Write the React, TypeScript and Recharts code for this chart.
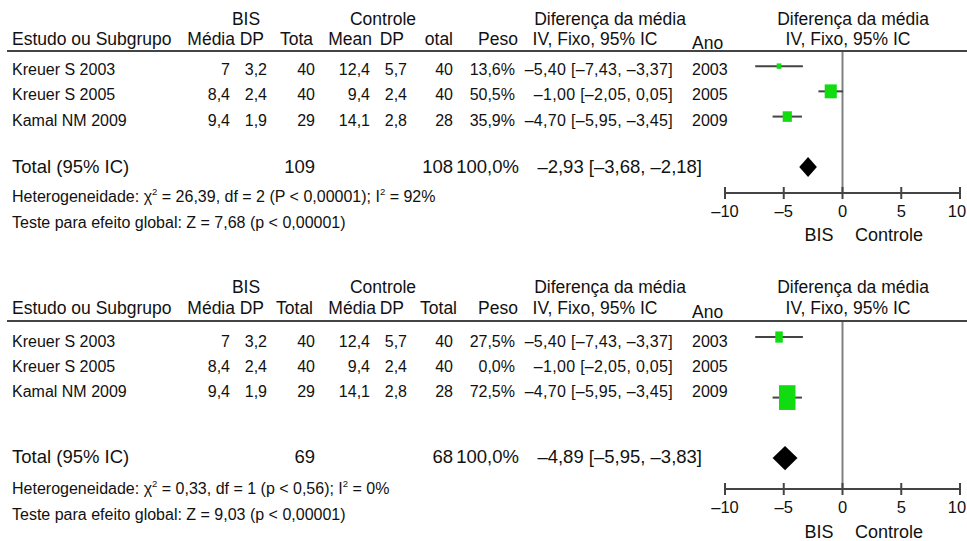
import React from "react";
import {
  ScatterChart,
  Scatter,
  XAxis,
  YAxis,
  ErrorBar,
  ReferenceLine,
  ReferenceArea,
} from "recharts";

const FONT = '"Liberation Sans", Arial, Helvetica, sans-serif';
const INK = "#111";

// ---------- data ----------
const studies = ["Kreuer S 2003", "Kreuer S 2005", "Kamal NM 2009"];
const bisMean = [7, 8.4, 9.4];
const bisSD = [3.2, 2.4, 1.9];
const bisN = [40, 40, 29];
const ctrlMean = [12.4, 9.4, 14.1];
const ctrlSD = [5.7, 2.4, 2.8];
const ctrlN = [40, 40, 28];
const years = [2003, 2005, 2009];
const meanDiff = [-5.4, -1.0, -4.7];
const ciLow = [-7.43, -2.05, -5.95];
const ciHigh = [-3.37, 0.05, -3.45];
const weightsTop = [13.6, 50.5, 35.9];
const weightsBottom = [27.5, 0.0, 72.5];

const totalN1 = [109, 69];
const totalN2 = [108, 68];
const totalWeight = [100.0, 100.0];
const totalMD = [-2.93, -4.89];
const totalLo = [-3.68, -5.95];
const totalHi = [-2.18, -3.83];

const hetChi2 = [26.39, 0.33];
const hetDf = [2, 1];
const hetP = ["P < 0,00001", "p < 0,56"];
const hetI2 = [92, 0];
const zValue = [7.68, 9.03];
const zP = ["p < 0,00001", "p < 0,00001"];

const xTicks = [-10, -5, 0, 5, 10];

const headerTop = ["Média", "DP", "Tota", "Mean", "DP", "otal"];
const headerBottom = ["Média", "DP", "Total", "Média", "DP", "Total"];

// ---------- helpers ----------
const fmt = (v: number, d: number) =>
  v.toFixed(d).replace(".", ",").replace("-", "\u2013");
const num = (v: number) => String(v).replace(".", ",");
const ciText = (m: number, l: number, h: number) =>
  `${fmt(m, 2)} [${fmt(l, 2)}, ${fmt(h, 2)}]`;

const layouts = [
  {
    chartTop: 0,
    groupY: 25,
    headY: 45,
    anoY: 48.5,
    lineY: 51,
    rowY: [74.5, 100, 125.5],
    totalY: 172.5,
    hetY: 202,
    testY: 228,
    bisY: 241,
    yDomain: [-0.6, 5.03],
    marginBottom: 37,
    weights: weightsTop,
    headers: headerTop,
    headerEnds: [235, 264, 313, 372, 404, 453],
    aspect: 1.15,
  },
  {
    chartTop: 270,
    groupY: 293,
    headY: 314,
    anoY: 317.5,
    lineY: 321,
    rowY: [347, 372, 397],
    totalY: 463,
    hetY: 494,
    testY: 520,
    bisY: 538,
    yDomain: [-0.53, 5.02],
    marginBottom: 11,
    weights: weightsBottom,
    headers: headerBottom,
    headerEnds: [235, 264, 313, 376, 404, 457],
    aspect: 1.5,
  },
];

const colEnds = [230, 267, 315, 370, 407, 453];

const Tick = (props: any) => {
  const { x, y, payload } = props;
  const v = payload.value as number;
  const tx = Math.min(x, 957);
  return (
    <g>
      <line x1={x} x2={x} y1={y - 6} y2={y + 6} stroke="#444" strokeWidth={2} />
      <text
        x={tx}
        y={y + 24}
        textAnchor="middle"
        fontSize={16.5}
        fontFamily={FONT}
        fill={INK}
      >
        {v < 0 ? "\u2013" + Math.abs(v) : String(v)}
      </text>
    </g>
  );
};

const makeSquare = (aspect: number) => (props: any) => {
  const { cx, cy, payload } = props;
  const w = 2 + 0.2 * payload.w;
  const h = aspect * w;
  return <rect x={cx - w / 2} y={cy - h / 2} width={w} height={h} fill="#10dc10" />;
};

const DiamondShape = (props: any) => {
  const { x, y, width, height } = props;
  const pts = [
    [x, y + height / 2],
    [x + width / 2, y],
    [x + width, y + height / 2],
    [x + width / 2, y + height],
  ]
    .map((p) => p.join(","))
    .join(" ");
  return <polygon points={pts} fill="#000" />;
};

function ForestPanel({ p }: { p: number }) {
  const L = layouts[p];
  const data = studies
    .map((s, i) => ({
      idx: i,
      md: meanDiff[i],
      w: L.weights[i],
      err: [meanDiff[i] - ciLow[i], ciHigh[i] - meanDiff[i]],
    }))
    .filter((d) => d.w > 0);
  const Square = makeSquare(L.aspect);
  return (
    <div style={{ position: "absolute", left: 0, top: L.chartTop }}>
      <ScatterChart
        width={967}
        height={270}
        margin={{ top: 51, right: 7, bottom: L.marginBottom, left: 725 }}
      >
        <XAxis
          type="number"
          dataKey="md"
          domain={[-10, 10]}
          ticks={xTicks}
          allowDataOverflow
          height={40}
          axisLine={{ stroke: "#444", strokeWidth: 2 }}
          tickLine={false}
          tickSize={0}
          tickMargin={0}
          tick={<Tick />}
          interval={0}
        />
        <YAxis
          type="number"
          dataKey="idx"
          domain={L.yDomain}
          reversed
          hide
          width={0}
          allowDataOverflow
        />
        <ReferenceLine x={0} stroke="#808080" strokeWidth={2} />
        <ReferenceArea
          x1={totalLo[p]}
          x2={totalHi[p]}
          y1={4 - 0.4}
          y2={4 + 0.4}
          ifOverflow="visible"
          shape={(props: any) => <DiamondShape {...props} />}
        />
        <Scatter data={data} isAnimationActive={false} shape={(props: any) => <Square {...props} />}>
          <ErrorBar dataKey="err" direction="x" width={0} stroke="#444" strokeWidth={2} />
        </Scatter>
      </ScatterChart>
    </div>
  );
}

function PanelText({ p }: { p: number }) {
  const L = layouts[p];
  const rowFs = 16;
  const headFs = 17.5;
  return (
    <g fontFamily={FONT} fill={INK}>
      {/* group headers */}
      <text x={246} y={L.groupY} fontSize={headFs} textAnchor="middle">BIS</text>
      <text x={383} y={L.groupY} fontSize={headFs} textAnchor="middle">Controle</text>
      <text x={610} y={L.groupY} fontSize={headFs} textAnchor="middle">Diferença da média</text>
      <text x={853} y={L.groupY} fontSize={headFs} textAnchor="middle">Diferença da média</text>
      {/* column headers */}
      <text x={12} y={L.headY} fontSize={headFs}>Estudo ou Subgrupo</text>
      {L.headers.map((h, i) => (
        <text key={i} x={L.headerEnds[i]} y={L.headY} fontSize={headFs} textAnchor="end">{h}</text>
      ))}
      <text x={518} y={L.headY} fontSize={headFs} textAnchor="end">Peso</text>
      <text x={595} y={L.headY} fontSize={headFs} textAnchor="middle">IV, Fixo, 95% IC</text>
      <text x={692} y={L.anoY} fontSize={headFs}>Ano</text>
      <text x={848} y={L.headY} fontSize={headFs} textAnchor="middle">IV, Fixo, 95% IC</text>
      <line x1={7} x2={967} y1={L.lineY} y2={L.lineY} stroke="#444" strokeWidth={2} />
      {/* study rows */}
      {studies.map((s, i) => {
        const y = L.rowY[i];
        const vals = [bisMean[i], bisSD[i], bisN[i], ctrlMean[i], ctrlSD[i], ctrlN[i]];
        return (
          <g key={s} fontSize={rowFs}>
            <text x={12} y={y}>{s}</text>
            {vals.map((v, j) => (
              <text key={j} x={colEnds[j]} y={y} textAnchor="end">{num(v)}</text>
            ))}
            <text x={515} y={y} textAnchor="end">{fmt(L.weights[i], 1)}%</text>
            <text x={673} y={y} textAnchor="end" letterSpacing={0.3}>
              {ciText(meanDiff[i], ciLow[i], ciHigh[i])}
            </text>
            <text x={692} y={y}>{years[i]}</text>
          </g>
        );
      })}
      {/* total row */}
      <g fontSize={18.5}>
        <text x={12} y={L.totalY}>Total (95% IC)</text>
        <text x={315} y={L.totalY} textAnchor="end">{totalN1[p]}</text>
        <text x={453} y={L.totalY} textAnchor="end">{totalN2[p]}</text>
        <text x={519} y={L.totalY} textAnchor="end">{fmt(totalWeight[p], 1)}%</text>
        <text x={702} y={L.totalY} textAnchor="end">{ciText(totalMD[p], totalLo[p], totalHi[p])}</text>
      </g>
      {/* notes */}
      <text x={12} y={L.hetY} fontSize={16}>
        <tspan>Heterogeneidade: χ</tspan>
        <tspan fontSize={9.5} dy={-7}>2</tspan>
        <tspan dy={7}>{` = ${num(hetChi2[p])}, df = ${hetDf[p]} (${hetP[p]}); I`}</tspan>
        <tspan fontSize={9.5} dy={-7}>2</tspan>
        <tspan dy={7}>{` = ${hetI2[p]}%`}</tspan>
      </text>
      <text x={12} y={L.testY} fontSize={16}>
        {`Teste para efeito global: Z = ${num(zValue[p])} (${zP[p]})`}
      </text>
      {/* direction labels */}
      <text x={819} y={L.bisY} fontSize={18} textAnchor="middle">BIS</text>
      <text x={855} y={L.bisY} fontSize={18}>Controle</text>
    </g>
  );
}

export default function App() {
  return (
    <div
      style={{
        position: "absolute",
        left: 0,
        top: 0,
        width: 967,
        height: 541,
        background: "#fff",
        overflow: "hidden",
      }}
    >
      <ForestPanel p={0} />
      <ForestPanel p={1} />
      <svg
        width={967}
        height={541}
        style={{ position: "absolute", left: 0, top: 0, pointerEvents: "none" }}
      >
        <PanelText p={0} />
        <PanelText p={1} />
      </svg>
    </div>
  );
}
